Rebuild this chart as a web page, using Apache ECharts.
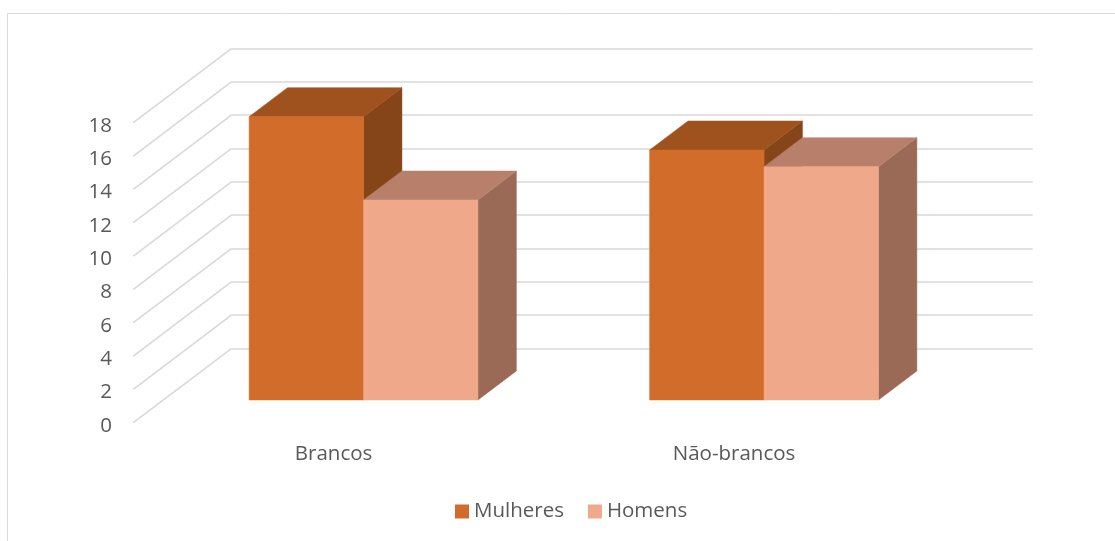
<!DOCTYPE html>
<html>
<head>
<meta charset="utf-8">
<script src="https://cdn.jsdelivr.net/npm/echarts@6/dist/echarts.min.js"></script>
<style>
  html, body { margin: 0; padding: 0; background: #ffffff; }
  #chart { width: 1115px; height: 541px; }
</style>
</head>
<body>
<div id="chart"></div>
<script>
// ---- data ----
const categories = ['Brancos', 'Não-brancos'];
const seriesNames = ['Mulheres', 'Homens'];
const mulheres = [17, 15];
const homens = [12, 14];
const yTicks = [0, 2, 4, 6, 8, 10, 12, 14, 16, 18];

// ---- 3D projection settings (styles / geometry) ----
const DX = -98.4, DY = 74.4;          // full depth offset (back wall -> front edge)
const F_FRONT = 0.695, F_BACK = 0.305; // bar depth position (fraction of depth)
const GAP = 1.5;                       // gap width 150%
const TEXT = '#595959';
const FONT = 'Open Sans';
const FS = 20.5;
const LABEL_SHIFT = 3;                 // small vertical nudge for label plane
const G = { left: 231.7, right: 82.3, top: 48.3, bottom: 192.7 };
const faces = [
  { front: '#D26C2A', top: '#A0521E', side: '#864519' },
  { front: '#F0A88A', top: '#B8806A', side: '#9A6A56' }
];

function barRenderer(sIdx) {
  return function (params, api) {
    const cat = api.value(0), val = api.value(1);
    const pTop = api.coord([cat, val]);
    const pBase = api.coord([cat, 0]);
    const band = api.size([1, 0])[0];
    const bw = band / (2 + GAP);
    const x0 = pTop[0] + (sIdx === 0 ? -bw : 0);
    const x1 = x0 + bw;
    const fx = F_FRONT * DX, fy = F_FRONT * DY;
    const bx = F_BACK * DX, by = F_BACK * DY;
    const yT = pTop[1], yB = pBase[1];
    const c = faces[sIdx];
    const FL_T = [x0 + fx, yT + fy], FR_T = [x1 + fx, yT + fy];
    const FL_B = [x0 + fx, yB + fy], FR_B = [x1 + fx, yB + fy];
    const BL_T = [x0 + bx, yT + by], BR_T = [x1 + bx, yT + by];
    const BR_B = [x1 + bx, yB + by];
    return {
      type: 'group',
      children: [
        { type: 'polygon', shape: { points: [FR_T, BR_T, BR_B, FR_B] },
          style: { fill: c.side, stroke: c.side, lineWidth: 0.5 } },
        { type: 'polygon', shape: { points: [FL_T, FR_T, BR_T, BL_T] },
          style: { fill: c.top, stroke: c.top, lineWidth: 0.5 } },
        { type: 'polygon', shape: { points: [FL_T, FR_T, FR_B, FL_B] },
          style: { fill: c.front, stroke: c.front, lineWidth: 0.5 } }
      ]
    };
  };
}

const labelStyle = { fontFamily: FONT, fontSize: FS, color: TEXT };

const chart = echarts.init(document.getElementById('chart'), null, { renderer: 'canvas' });
chart.setOption({
  backgroundColor: '#ffffff',
  animation: false,
  graphic: [{
    type: 'rect', silent: true, z: -10,
    shape: { x: 7.5, y: 13.5, width: 1300, height: 700 },
    style: { fill: 'none', stroke: '#D9D9D9', lineWidth: 1 }
  }],
  grid: [
    // back wall plane
    { left: G.left, right: G.right, top: G.top, bottom: G.bottom,
      containLabel: false, outerBoundsMode: 'none' },
    // front edge plane (for axis labels)
    { left: G.left + DX, right: G.right - DX,
      top: G.top + DY + LABEL_SHIFT, bottom: G.bottom - DY - LABEL_SHIFT,
      containLabel: false, outerBoundsMode: 'none' }
  ],
  legend: {
    data: seriesNames,
    left: 455, top: 501, padding: 0,
    itemWidth: 14, itemHeight: 14, itemGap: 24,
    icon: 'rect',
    textStyle: labelStyle
  },
  xAxis: [
    { gridIndex: 0, type: 'category', data: categories,
      axisLine: { show: false }, axisTick: { show: false }, axisLabel: { show: false } },
    { gridIndex: 1, type: 'category', data: categories,
      axisLine: { show: false }, axisTick: { show: false },
      axisLabel: Object.assign({ interval: 0, margin: 28, verticalAlign: 'middle' }, labelStyle) }
  ],
  yAxis: [
    { gridIndex: 0, type: 'value', min: 0, max: 18, interval: 2,
      axisLine: { show: false }, axisTick: { show: false }, axisLabel: { show: false },
      splitLine: { lineStyle: { color: '#D9D9D9', width: 1.6 } } },
    { gridIndex: 1, type: 'value', min: 0, max: 18, interval: 2,
      axisLine: { show: false }, axisTick: { show: false }, splitLine: { show: false },
      axisLabel: Object.assign({ margin: 21.3, align: 'right' }, labelStyle) }
  ],
  series: [
    {
      name: 'wall', type: 'custom', silent: true, z: 1,
      xAxisIndex: 0, yAxisIndex: 0,
      data: yTicks.map(v => [0, v]),
      renderItem: function (params, api) {
        const p = api.coord([0, api.value(1)]);
        const xl = params.coordSys.x;
        return {
          type: 'line',
          shape: { x1: xl, y1: p[1], x2: xl + DX, y2: p[1] + DY },
          style: { stroke: '#D9D9D9', lineWidth: 1.6 }
        };
      }
    },
    {
      name: seriesNames[0], type: 'custom', z: 2,
      xAxisIndex: 0, yAxisIndex: 0,
      itemStyle: { color: faces[0].front },
      data: mulheres.map((v, i) => [i, v]),
      renderItem: barRenderer(0)
    },
    {
      name: seriesNames[1], type: 'custom', z: 3,
      xAxisIndex: 0, yAxisIndex: 0,
      itemStyle: { color: faces[1].front },
      data: homens.map((v, i) => [i, v]),
      renderItem: barRenderer(1)
    }
  ]
});
</script>
</body>
</html>
